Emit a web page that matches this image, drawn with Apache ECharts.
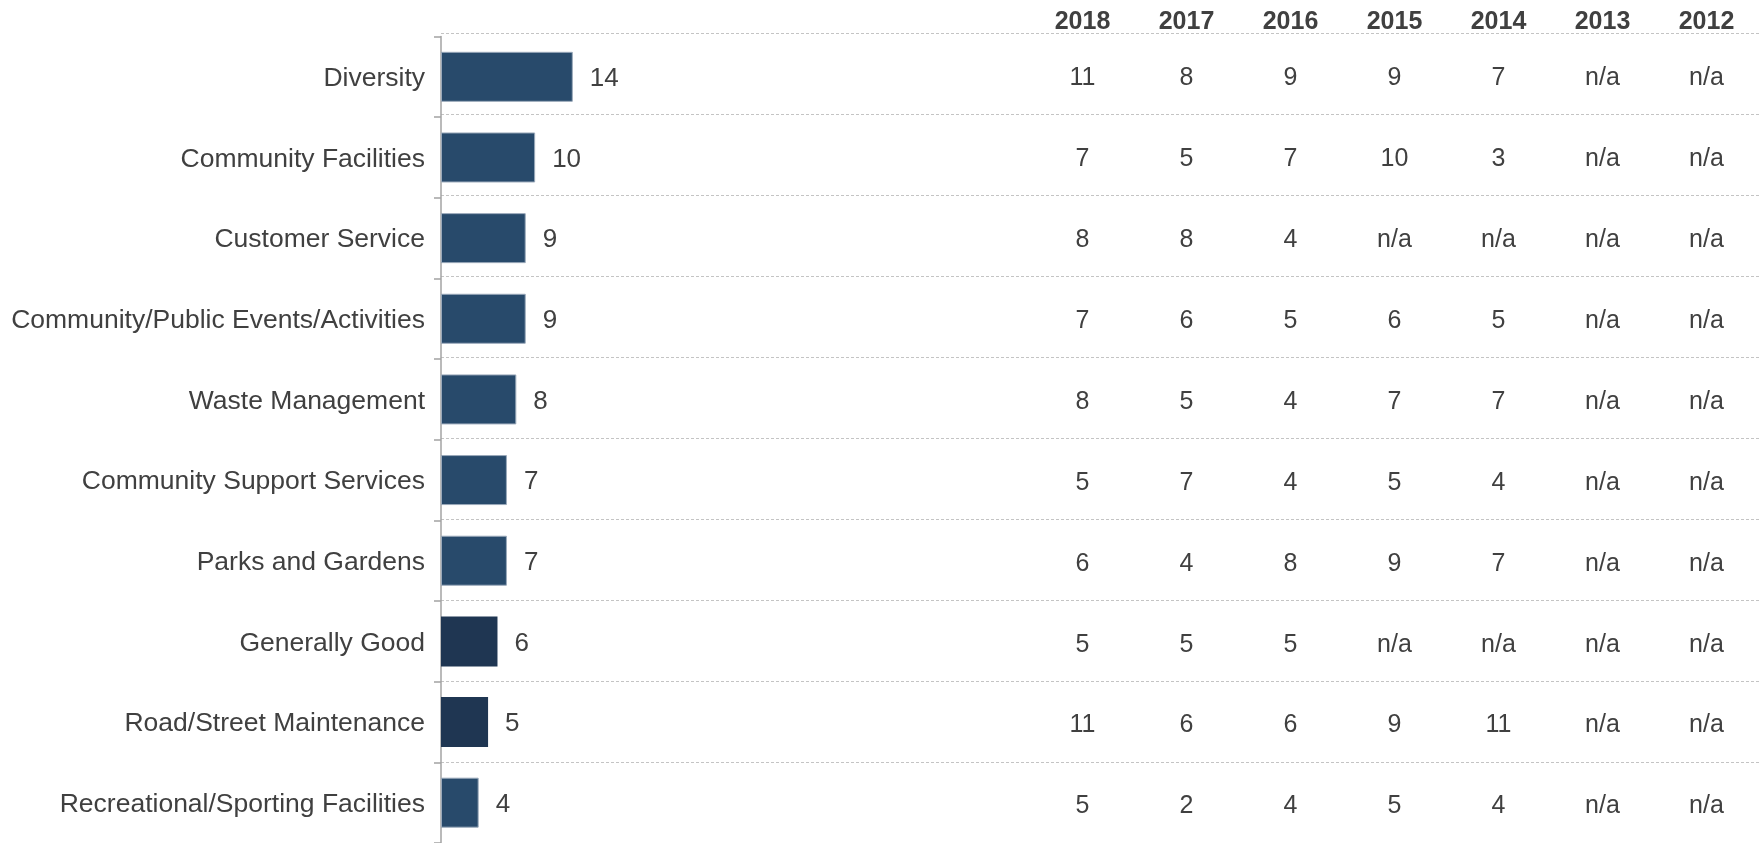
<!DOCTYPE html>
<html>
<head>
<meta charset="utf-8">
<script src="https://cdn.jsdelivr.net/npm/echarts@6/dist/echarts.min.js"></script>
<style>
  html, body { margin: 0; padding: 0; background: #ffffff; }
  #chart { width: 1759px; height: 843px; }
</style>
</head>
<body>
<div id="chart"></div>
<script>
// Categories, listed top to bottom
const categories = [
  'Diversity',
  'Community Facilities',
  'Customer Service',
  'Community/Public Events/Activities',
  'Waste Management',
  'Community Support Services',
  'Parks and Gardens',
  'Generally Good',
  'Road/Street Maintenance',
  'Recreational/Sporting Facilities'
];

// Current year results (bars)
const current = [14, 10, 9, 9, 8, 7, 7, 6, 5, 4];

// Categories whose bar uses the darker shade
const darkCategories = ['Generally Good', 'Road/Street Maintenance'];

// Previous years (null = n/a)
const years = ['2018', '2017', '2016', '2015', '2014', '2013', '2012'];
const y2018 = [11, 7, 8, 7, 8, 5, 6, 5, 11, 5];
const y2017 = [8, 5, 8, 6, 5, 7, 4, 5, 6, 2];
const y2016 = [9, 7, 4, 5, 4, 4, 8, 5, 6, 4];
const y2015 = [9, 10, null, 6, 7, 5, 9, null, 9, 5];
const y2014 = [7, 3, null, 5, 7, 4, 7, null, 11, 4];
const y2013 = [null, null, null, null, null, null, null, null, null, null];
const y2012 = [null, null, null, null, null, null, null, null, null, null];
const history = [y2018, y2017, y2016, y2015, y2014, y2013, y2012];

const FONT = "'Liberation Sans', Arial, Helvetica, sans-serif";
const TEXT = '#404040';
const BAR = '#284a6b';
const BAR_DARK = '#1f3652';

const tableData = [];
history.forEach((col, xi) => {
  col.forEach((v, yi) => {
    tableData.push([xi, yi, v === null ? 'n/a' : String(v)]);
  });
});

const chart = echarts.init(document.getElementById('chart'), null, { renderer: 'canvas' });

chart.setOption({
  animation: false,
  backgroundColor: '#ffffff',
  grid: [
    // bars
    { left: 441, top: 36.5, width: 1318, height: 808, containLabel: false },
    // history table
    { left: 1030.5, top: 33.7, width: 728, height: 814.4, containLabel: false },
    // row separators
    { left: 441, top: 33.7, width: 1318, height: 814.4, containLabel: false }
  ],
  xAxis: [
    {
      gridIndex: 0, type: 'value', min: 0, max: 140,
      show: false, splitLine: { show: false }
    },
    {
      gridIndex: 1, type: 'category', data: years, position: 'top',
      axisLine: { show: false }, axisTick: { show: false },
      splitLine: { show: false },
      axisLabel: {
        margin: -1, fontFamily: FONT, fontSize: 25, fontWeight: 'bold', color: TEXT
      }
    },
    {
      gridIndex: 2, type: 'value', show: false, splitLine: { show: false }
    }
  ],
  yAxis: [
    {
      gridIndex: 0, type: 'category', data: categories, inverse: true,
      axisLine: { show: true, lineStyle: { color: '#a3a3a3', width: 1.5 } },
      axisTick: { show: true, length: 7, lineStyle: { color: '#a3a3a3', width: 1.5 } },
      axisLabel: {
        margin: 16, fontFamily: FONT, fontSize: 26.5, color: TEXT,
        formatter: '{c|{value}}',
        rich: {
          c: { fontFamily: FONT, fontSize: 26.5, color: TEXT, padding: [4, 0, 0, 0] }
        }
      },
      splitLine: { show: false }
    },
    {
      gridIndex: 1, type: 'category', data: categories, inverse: true, show: false
    },
    {
      gridIndex: 2, type: 'category', data: categories, inverse: true,
      axisLine: { show: false }, axisTick: { show: false }, axisLabel: { show: false },
      splitLine: { show: true, lineStyle: { color: '#c4c4c4', type: [3, 2], width: 1 } }
    }
  ],
  series: [
    {
      type: 'bar',
      xAxisIndex: 0, yAxisIndex: 0,
      barWidth: 50,
      data: current.map((v, i) => ({
        value: v,
        itemStyle: darkCategories.includes(categories[i])
          ? { color: BAR_DARK }
          : { color: BAR, borderColor: '#9aa9ba', borderWidth: 1 }
      })),
      label: {
        show: true, position: 'right', distance: 17, offset: [0, 2],
        fontFamily: FONT, fontSize: 26, color: TEXT
      }
    },
    {
      type: 'scatter',
      xAxisIndex: 1, yAxisIndex: 1,
      symbolSize: 1,
      itemStyle: { color: 'rgba(0,0,0,0)', opacity: 1 },
      data: tableData,
      label: {
        show: true, position: 'inside', offset: [0, 4],
        formatter: p => p.value[2],
        fontFamily: FONT, fontSize: 25, color: TEXT
      },
      emphasis: { disabled: true }
    }
  ]
});
</script>
</body>
</html>
